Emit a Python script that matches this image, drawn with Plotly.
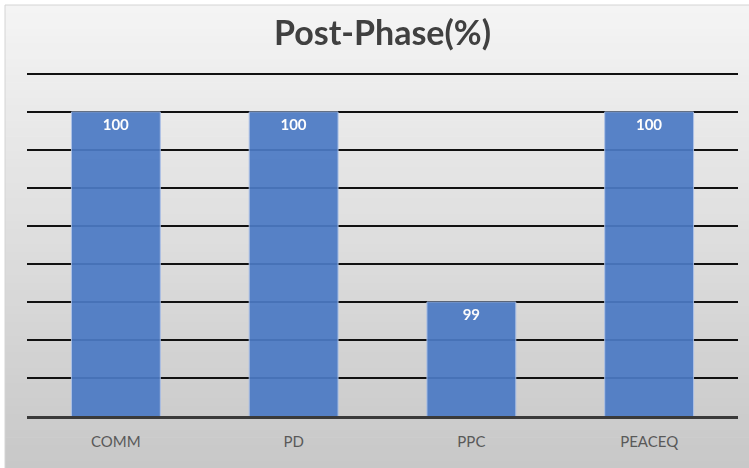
import plotly.graph_objects as go

# Post-phase completion rates per component
categories = ["COMM", "PD", "PPC", "PEACEQ"]
values = [100, 100, 99, 100]

Y_MIN, Y_MAX, Y_STEP = 98.4, 100.2, 0.2
Y_PAD = 0.01  # keeps the top gridline inside the plot area

fig = go.Figure()

fig.add_trace(go.Bar(
    x=categories,
    y=values,
    marker=dict(color="#4c7ac4", line=dict(color="#a9bfe6", width=1)),
    opacity=0.93,
    text=[str(v) for v in values],
    textposition="inside",
    insidetextanchor="end",
    textfont=dict(family="Lato, Open Sans, sans-serif", size=15, color="white", weight="bold"),
    hoverinfo="x+y",
))

PLOT_H = 344
# Light-to-dark vertical grey gradient behind the whole chart
shapes = []
n_bands = 60
top_c = (244, 244, 244)
bot_c = (200, 200, 200)
y0_paper, y1_paper = -52 / PLOT_H, (468 - 5 - 52) / PLOT_H  # paper units spanning the chart panel
for i in range(n_bands):
    t = i / (n_bands - 1)
    c = tuple(round(top_c[k] + (bot_c[k] - top_c[k]) * t) for k in range(3))
    ya = y1_paper - (y1_paper - y0_paper) * i / n_bands
    yb = y1_paper - (y1_paper - y0_paper) * (i + 1) / n_bands
    shapes.append(dict(
        type="rect", xref="paper", yref="paper",
        x0=-22 / 711, x1=(749 - 27) / 711 + 0.01, y0=yb - 0.002, y1=ya,
        fillcolor="rgb(%d,%d,%d)" % c, line=dict(width=0), layer="below",
    ))
# thin border on the panel's left and top edges
shapes.append(dict(
    type="line", xref="paper", yref="paper",
    x0=-22 / 711, x1=-22 / 711, y0=y0_paper, y1=y1_paper,
    line=dict(color="#d4d4d4", width=1), layer="below",
))
shapes.append(dict(
    type="line", xref="paper", yref="paper",
    x0=-22 / 711, x1=(749 - 27) / 711 + 0.01, y0=y1_paper, y1=y1_paper,
    line=dict(color="#d4d4d4", width=1), layer="below",
))

fig.update_layout(
    width=749,
    height=468,
    margin=dict(l=27, r=11, t=72, b=52),
    paper_bgcolor="white",
    plot_bgcolor="rgba(0,0,0,0)",
    shapes=shapes,
    bargap=0.5,
    showlegend=False,
    title=dict(
        text="Post-Phase(%)",
        x=0.5, xref="paper", xanchor="center",
        y=1 - 33 / 468, yanchor="middle",
        font=dict(family="Lato, Open Sans, sans-serif", size=34, color="#404040", weight="bold"),
    ),
    xaxis=dict(
        showgrid=False,
        showline=True,
        linecolor="#3a3a3a",
        linewidth=2.5,
        ticks="",
        ticklabelstandoff=10,
        tickfont=dict(family="Lato, Open Sans, sans-serif", size=15, color="#595959"),
    ),
    yaxis=dict(
        range=[Y_MIN, Y_MAX + Y_PAD],
        tick0=Y_MIN,
        dtick=Y_STEP,
        showticklabels=False,
        showgrid=True,
        gridcolor="#111111",
        gridwidth=1.5,
        zeroline=False,
        showline=False,
        ticks="",
    ),
)

fig.write_html("out.html")
